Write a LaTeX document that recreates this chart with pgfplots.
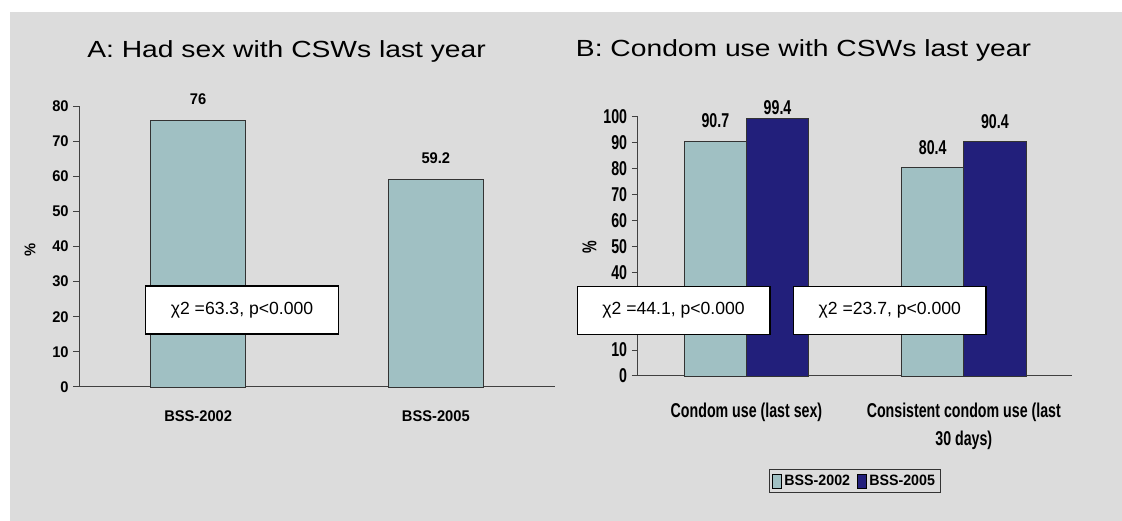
\documentclass[border=0pt]{standalone}
\usepackage{fontspec}
\setmainfont{Liberation Sans}
\newfontfamily\titlefont{Liberation Sans}[FakeStretch=1.21]
\newfontfamily\afont{Liberation Sans}[FakeStretch=0.95]
\newfontfamily\bfont{Liberation Sans}[FakeStretch=0.71]
\newfontfamily\boxfont{Liberation Sans}
\usepackage{pgfplots}
\pgfplotsset{compat=1.18}
\definecolor{bgray}{HTML}{DCDCDC}
\definecolor{c2002}{HTML}{A0C0C3}
\definecolor{c2005}{HTML}{221F7B}

\pgfplotsset{
  panel/.style={
    scale only axis,
    axis x line*=bottom, axis y line*=left,
    axis line style={black!75, line width=0.75pt},
    ybar, ymin=0,
    xmin=-0.5, xmax=1.5,
    xtick={0,1}, major x tick style={draw=none},
    extra x ticks={-0.5,0.5,1.5}, extra x tick labels={},
    extra x tick style={tick style={black!75, line width=0.75pt}},
    tick align=outside, major tick length=4.5pt,
    y tick style={black!75, line width=0.75pt},
    /pgf/number format/assume math mode=true,
    nodes near coords,
    every node near coord/.append style={anchor=south, inner sep=0pt, text=black},
    clip=false,
  },
  bars/.style={draw=black!80, line width=0.6pt,
    legend image code/.code={\draw[##1, draw=black, line width=0.6pt] (0pt,-5.25pt) rectangle (6.75pt,5.25pt);}},
}

\begin{document}
\begin{tikzpicture}[x=0.75pt,y=0.75pt]
\useasboundingbox (0,0) rectangle (1122,521);
\fill[white] (0,0) rectangle (1122,521);
\fill[bgray] (10,0) rectangle (1122,509);

% A
\begin{axis}[panel,
  at={(59.5pt,100.5pt)}, anchor=south west,
  width=356.5pt, height=210.75pt,
  ymax=80, ytick={0,10,...,80},
  bar width=0.4,
  xticklabels={BSS-2002,BSS-2005},
  tick label style={font=\afont\bfseries\fontsize{11.6}{13}\selectfont},
  xticklabel style={inner sep=0pt, yshift=-13.25pt},
  every node near coord/.append style={yshift=11pt},
  nodes near coords style={font=\afont\bfseries\fontsize{11.6}{13}\selectfont},
  ylabel={\%},
  ylabel style={at={(axis description cs:-0.1037,0.4875)}, anchor=center,
    font=\afont\bfseries\fontsize{11.6}{13}\selectfont},
  title={A: Had sex with CSWs last year},
  title style={at={(axis description cs:0.436,1.1459)}, anchor=base, yshift=0pt,
    font=\titlefont\fontsize{17.5}{20}\selectfont},
]
\addplot[bars, fill=c2002] coordinates {(0,76) (1,59.2)};
\end{axis}

% B
\begin{axis}[panel,
  at={(478.35pt,108.75pt)}, anchor=south west,
  width=326pt, height=194.25pt,
  ymax=100, ytick={0,10,...,100},
  yticklabels={0,10,{},{},40,50,60,70,80,90,100},
  bar width=0.286,
  xticklabels={Condom use (last sex),{Consistent condom use (last\\30 days)}},
  tick label style={font=\bfont\bfseries\fontsize{15}{21}\selectfont},
  xticklabel style={inner sep=0pt, align=center, yshift=-15.75pt},
  visualization depends on={y \as \rawy},
  every node near coord/.append style={yshift={ifthenelse(\rawy>95,2.5,9.75)}},
  nodes near coords style={font=\bfont\bfseries\fontsize{15}{17}\selectfont},
  ylabel={\%},
  ylabel style={at={(axis description cs:-0.1109,0.498)}, anchor=center,
    font=\bfont\bfseries\fontsize{15}{17}\selectfont},
  title={B: Condom use with CSWs last year},
  title style={at={(axis description cs:0.3812,1.2008)}, anchor=base, yshift=0pt,
    font=\titlefont\fontsize{17.5}{20}\selectfont},
  legend style={at={(0.4992,-0.407)}, anchor=center, legend columns=-1,
    draw=black!80, line width=0.75pt, fill=bgray, inner sep=2pt,
    font=\afont\bfseries\fontsize{11.25}{13}\selectfont,
    /tikz/every even column/.append style={column sep=3pt}},
]
\addplot[bars, fill=c2002, bar shift=-0.143] coordinates {(0,90.7) (1,80.4)};
\addplot[bars, fill=c2005, bar shift=0.143] coordinates {(0,99.4) (1,90.4)};
\legend{BSS-2002,BSS-2005}
\end{axis}

\tikzset{chibox/.style={draw=black, line width=1.1pt, fill=white, inner sep=0pt,
  minimum width=144.5pt, minimum height=36pt,
  font=\boxfont\fontsize{13.2}{16}\selectfont}}
\node[chibox] at (242,211) {χ2 =63.3, p<0.000};
\node[chibox] at (673.6,210.5) {χ2 =44.1, p<0.000};
\node[chibox] at (889.8,210.5) {χ2 =23.7, p<0.000};
\end{tikzpicture}
\end{document}
